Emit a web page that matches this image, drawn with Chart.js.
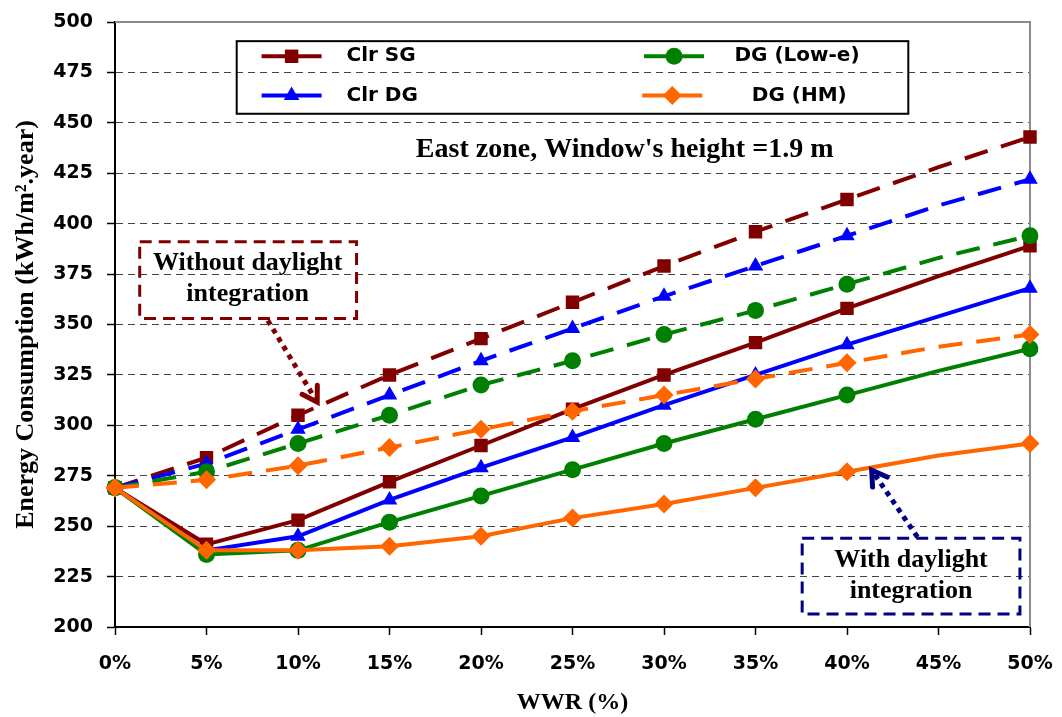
<!DOCTYPE html>
<html>
<head>
<meta charset="utf-8">
<script src="https://cdn.jsdelivr.net/npm/chart.js@4.4.0/dist/chart.umd.min.js"></script>
<style>
  body { margin: 0; background: #fff; }
  #wrap { width: 1062px; height: 717px; position: relative; }
</style>
</head>
<body>
<div id="wrap"><canvas id="energyChart"></canvas></div>
<script>
// WWR categories and tick labels
const wwrLabels = ['0%', '5%', '10%', '15%', '20%', '25%', '30%', '35%', '40%', '45%', '50%'];

// without daylight integration (dashed)
const clrSgNoDl  = [269, 284, 305, 325, 343, 361, 379, 396, 412, 428, 443];
const clrDgNoDl  = [269, 281, 298, 315, 332, 348, 364, 379, 394, 409, 422];
const lowENoDl   = [269, 277, 291, 305, 320, 332, 345, 357, 370, 383, 394];
const hmNoDl     = [269, 273, 280, 289, 298, 307, 315, 323, 331, 339, 345];

// with daylight integration (solid)
const clrSgDl    = [269, 241, 253, 272, 290, 308, 325, 341, 358, 374, 389];
const clrDgDl    = [269, 238, 245, 263, 279, 294, 310, 325, 340, 354, 368];
const lowEDl     = [269, 236, 238, 252, 265, 278, 291, 303, 315, 327, 338];
const hmDl       = [269, 238, 238, 240, 245, 254, 261, 269, 277, 285, 291];

const yTicks = [200, 225, 250, 275, 300, 325, 350, 375, 400, 425, 450, 475, 500];

const series = [
  { name: 'Clr SG',     color: '#800000', style: 'rect',     radius: 9.5, order: 4 },
  { name: 'Clr DG',     color: '#0000FF', style: 'triangle', radius: 9,   order: 3 },
  { name: 'DG (Low-e)', color: '#008000', style: 'circle',   radius: 8.5, order: 2 },
  { name: 'DG (HM)',    color: '#FF6600', style: 'rectRot',  radius: 9.5, order: 1 }
];
const noDlData = [clrSgNoDl, clrDgNoDl, lowENoDl, hmNoDl];
const dlData = [clrSgDl, clrDgDl, lowEDl, hmDl];

function makeSet(s, data, dashed) {
  return {
    label: s.name,
    data: data,
    borderColor: s.color,
    backgroundColor: s.color,
    borderWidth: 4,
    borderDash: dashed ? [24, 14] : [],
    pointStyle: s.style,
    pointRadius: ctx => ctx.dataIndex === 9 ? 0 : s.radius,
    pointBorderWidth: 0,
    pointBackgroundColor: s.color,
    order: s.order,
    tension: 0
  };
}

const datasets = [];
series.forEach((s, i) => datasets.push(makeSet(s, noDlData[i], true)));
series.forEach((s, i) => datasets.push(makeSet(s, dlData[i], false)));

const serif = "'Liberation Serif', 'Times New Roman', serif";
const sans = "'DejaVu Sans', Arial, sans-serif";

// plot frame: grey top/right like the excel plot area
const framePlugin = {
  id: 'frame',
  beforeDatasetsDraw(chart) {
    const { ctx, chartArea: a } = chart;
    ctx.save();
    ctx.strokeStyle = '#8c8c8c';
    ctx.lineWidth = 2;
    ctx.beginPath();
    ctx.moveTo(a.left, a.top);
    ctx.lineTo(a.right, a.top);
    ctx.lineTo(a.right, a.bottom);
    ctx.stroke();
    ctx.restore();
  }
};

function px(chart, xi, yv) {
  return { x: chart.scales.x.getPixelForValue(xi), y: chart.scales.y.getPixelForValue(yv) };
}

function dottedArrow(ctx, from, to, color) {
  ctx.save();
  ctx.strokeStyle = color;
  ctx.lineWidth = 5;
  ctx.setLineDash([5, 5]);
  ctx.beginPath();
  ctx.moveTo(from.x, from.y);
  ctx.lineTo(to.x, to.y);
  ctx.stroke();
  ctx.setLineDash([]);
  const ang = Math.atan2(to.y - from.y, to.x - from.x);
  const len = 17;
  ctx.lineCap = 'round';
  ctx.beginPath();
  ctx.moveTo(to.x - len * Math.cos(ang - 0.55), to.y - len * Math.sin(ang - 0.55));
  ctx.lineTo(to.x, to.y);
  ctx.lineTo(to.x - len * Math.cos(ang + 0.55), to.y - len * Math.sin(ang + 0.55));
  ctx.stroke();
  ctx.restore();
}

function dashedBox(ctx, p1, p2, color) {
  ctx.save();
  ctx.strokeStyle = color;
  ctx.lineWidth = 3;
  ctx.setLineDash([12, 7]);
  ctx.strokeRect(p1.x, p1.y, p2.x - p1.x, p2.y - p1.y);
  ctx.restore();
}

const notesPlugin = {
  id: 'notes',
  afterDraw(chart) {
    const ctx = chart.ctx;
    ctx.save();
    ctx.fillStyle = '#000';
    ctx.textAlign = 'center';
    ctx.textBaseline = 'middle';
    ctx.font = 'bold 28px ' + serif;
    let p = px(chart, 5.57, 436.5);
    ctx.fillText("East zone, Window's height =1.9 m", p.x, p.y);

    // without daylight box
    dashedBox(ctx, px(chart, 0.27, 391), px(chart, 2.64, 353), '#800000');
    ctx.font = 'bold 26px ' + serif;
    p = px(chart, 1.45, 380.5);
    ctx.fillText('Without daylight', p.x, p.y);
    p = px(chart, 1.45, 365);
    ctx.fillText('integration', p.x, p.y);
    dottedArrow(ctx, px(chart, 1.67, 352), px(chart, 2.21, 311.5), '#800000');

    // with daylight box
    dashedBox(ctx, px(chart, 7.51, 244), px(chart, 9.89, 206.4), '#000080');
    p = px(chart, 8.70, 233.2);
    ctx.fillText('With daylight', p.x, p.y);
    p = px(chart, 8.70, 217.9);
    ctx.fillText('integration', p.x, p.y);
    dottedArrow(ctx, px(chart, 8.77, 244.6), px(chart, 8.27, 277.8), '#000080');
    ctx.restore();

    drawLegend(chart);
  }
};

function drawLegend(chart) {
  const ctx = chart.ctx;
  const tl = px(chart, 1.33, 490.5);
  const br = px(chart, 8.67, 454.5);
  ctx.save();
  ctx.strokeStyle = '#000';
  ctx.lineWidth = 2;
  ctx.strokeRect(tl.x, tl.y, br.x - tl.x, br.y - tl.y);
  const rows = [
    { s: series[0], xi: 1.93, yv: 483, tx: 2.53 },
    { s: series[2], xi: 6.11, yv: 483, tx: 6.77 },
    { s: series[1], xi: 1.93, yv: 463.5, tx: 2.53 },
    { s: series[3], xi: 6.09, yv: 463.5, tx: 6.96 }
  ];
  ctx.font = 'bold 20px ' + sans;
  ctx.textBaseline = 'middle';
  ctx.textAlign = 'left';
  rows.forEach(r => {
    const c = px(chart, r.xi, r.yv);
    ctx.strokeStyle = r.s.color;
    ctx.lineWidth = 4;
    ctx.beginPath();
    ctx.moveTo(c.x - 30, c.y);
    ctx.lineTo(c.x + 30, c.y);
    ctx.stroke();
    ctx.fillStyle = r.s.color;
    Chart.helpers.drawPoint(ctx, { pointStyle: r.s.style, radius: r.s.radius, borderWidth: 0, rotation: 0 }, c.x, c.y);
    ctx.fillStyle = '#000';
    const t = px(chart, r.tx, r.yv);
    ctx.fillText(r.s.name, t.x, t.y);
  });
  ctx.restore();
}

new Chart(document.getElementById('energyChart'), {
  type: 'line',
  data: { labels: wwrLabels, datasets: datasets },
  options: {
    responsive: true,
    maintainAspectRatio: false,
    animation: false,
    layout: { padding: { top: 22, right: 32, left: 0, bottom: 0 } },
    plugins: { legend: { display: false }, tooltip: { enabled: false } },
    scales: {
      x: {
        type: 'category',
        offset: false,
        afterFit: scale => { scale.height = 90; scale.paddingLeft = 0; scale.paddingRight = 0; },
        grid: { drawOnChartArea: false, drawTicks: true, tickLength: 8, tickColor: '#000', tickWidth: 1.5 },
        border: { color: '#000', width: 2 },
        ticks: { color: '#000', font: { family: sans, size: 19, weight: 'bold' }, padding: 18, maxRotation: 0, autoSkip: false },
        title: { display: true, text: 'WWR (%)', color: '#000', font: { family: serif, size: 24, weight: 'bold' }, padding: { top: 0, bottom: 0 } }
      },
      y: {
        min: 200,
        max: 500,
        afterFit: scale => { scale.width = 115; scale.paddingTop = 0; scale.paddingBottom = 0; },
        afterBuildTicks: scale => { scale.ticks = yTicks.map(v => ({ value: v })); },
        grid: {
          color: ctx => ctx.tick && ctx.tick.value === 500 ? 'rgba(0,0,0,0)' : '#444',
          lineWidth: 1,
          tickLength: 8,
          tickColor: '#000',
          tickWidth: 1.5,
          tickBorderDash: []
        },
        border: { color: '#000', width: 2, dash: [7, 5] },
        ticks: { color: '#000', font: { family: sans, size: 19, weight: 'bold' }, padding: 14 },
        title: { display: true, text: 'Energy Consumption (kWh/m\u00B2.year)', color: '#000', font: { family: serif, size: 26, weight: 'bold' }, padding: { top: 11, bottom: 0 } }
      }
    }
  },
  plugins: [framePlugin, notesPlugin]
});
</script>
</body>
</html>
